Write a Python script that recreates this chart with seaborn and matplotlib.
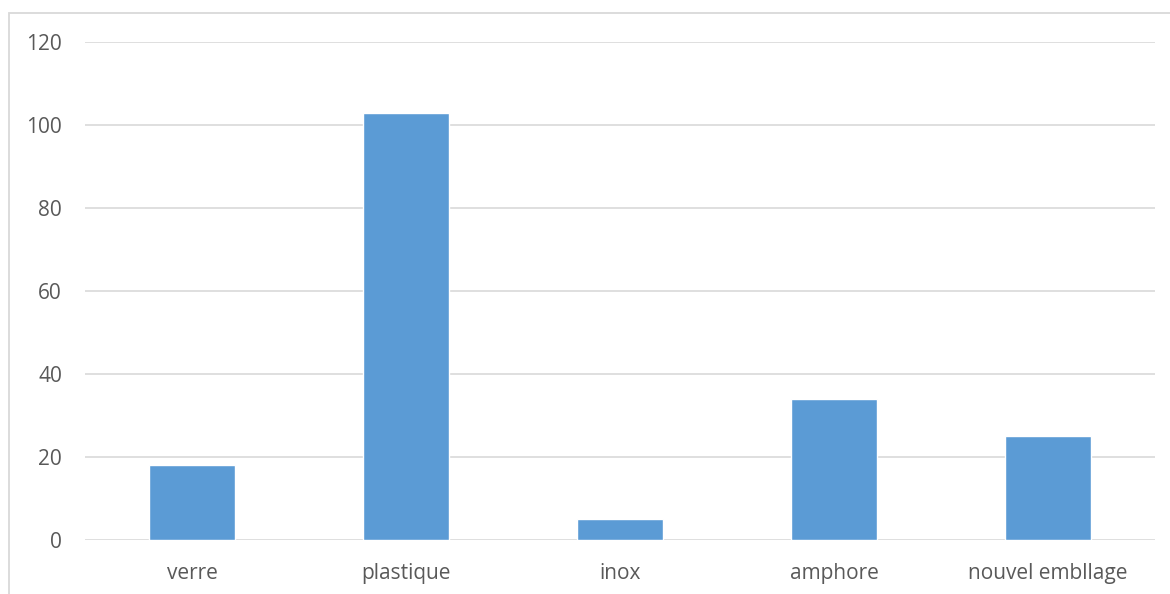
import matplotlib
matplotlib.use("Agg")
import pandas as pd
import seaborn as sns
import matplotlib.pyplot as plt
from matplotlib.patches import Rectangle

# Data
categories = ["verre", "plastique", "inox", "amphore", "nouvel embllage"]
values = [18, 103, 5, 34, 25]
yticks = [0, 20, 40, 60, 80, 100, 120]

df = pd.DataFrame({"type": categories, "count": values})

sns.set_theme(style="white")
plt.rcParams["font.family"] = ["Open Sans", "DejaVu Sans"]

fig = plt.figure(figsize=(11.7, 5.94), dpi=100)
ax = fig.add_axes([85 / 1170, 1 - 540 / 594, 1070 / 1170, 498 / 594])

sns.barplot(data=df, x="type", y="count", color="#5B9BD5", saturation=1,
            width=0.4, ax=ax, zorder=3)

ax.set_ylim(0, 120)
ax.set_yticks(yticks)
ax.set_xlim(-0.5, len(categories) - 0.5)
ax.yaxis.grid(True, color="#D9D9D9", linewidth=1.2, zorder=0)
ax.set_axisbelow(True)
for s in ax.spines.values():
    s.set_visible(False)
ax.set_xlabel("")
ax.set_ylabel("")
ax.tick_params(axis="both", length=0, labelsize=15, labelcolor="#595959")
ax.tick_params(axis="x", pad=16.5)
ax.tick_params(axis="y", pad=16.5)

# outer chart border
fig.patches.append(Rectangle((8.5 / 1170, -0.05), 1.1, 1 - 13 / 594 + 0.05,
                             transform=fig.transFigure, fill=False,
                             edgecolor="#D9D9D9", linewidth=1.3))

fig.savefig("out.png", dpi=100)
